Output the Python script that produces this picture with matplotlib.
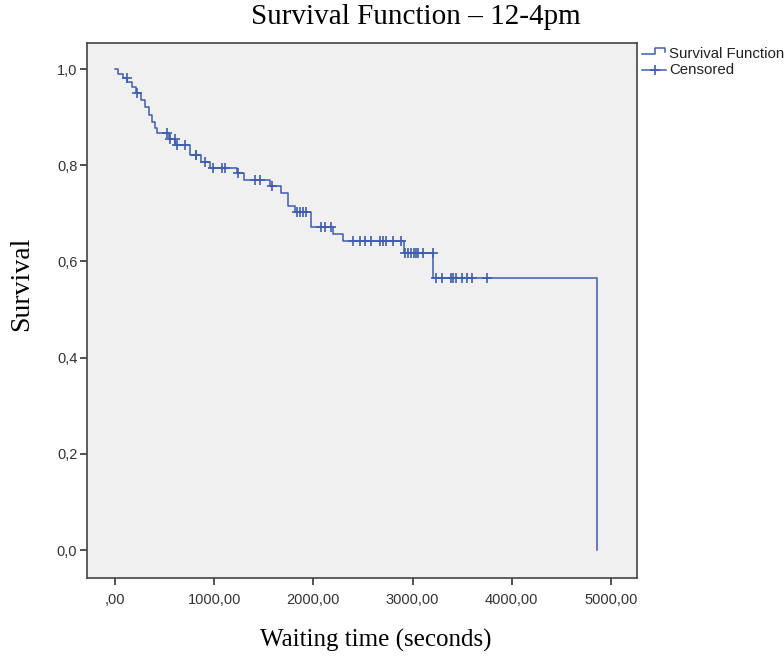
import numpy as np
import matplotlib
matplotlib.use("Agg")
import matplotlib.pyplot as plt
from matplotlib.lines import Line2D
from matplotlib.ticker import FixedLocator

# ---- data ----
event_times = [0, 30, 80, 120, 170, 210, 260, 300, 340, 370, 400, 420,
               540, 610, 760, 870, 960, 1225, 1300, 1565, 1675, 1745, 1815,
               1975, 2200, 2300, 2915, 3210, 4860]
survival = [1.0, 0.99, 0.982, 0.972, 0.962, 0.95, 0.935, 0.92, 0.905, 0.89, 0.878, 0.866,
            0.855, 0.842, 0.821, 0.807, 0.795, 0.784, 0.769, 0.757, 0.743, 0.715, 0.703,
            0.672, 0.657, 0.642, 0.617, 0.566, 0.0]
censored_times = [118, 219, 520, 555, 605, 625, 705, 815, 820, 907, 988, 1075, 1109,
                  1240, 1411, 1462, 1582, 1830, 1860, 1900, 1930, 2080, 2120, 2180,
                  2400, 2470, 2520, 2580, 2670, 2700, 2730, 2800, 2880, 2920,
                  2950, 2980, 3010, 3030, 3050, 3100, 3205,
                  3240, 3300, 3390, 3410, 3440, 3500, 3550, 3600, 3750]
x_ticks = [0, 1000, 2000, 3000, 4000, 5000]
x_tick_labels = [",00", "1000,00", "2000,00", "3000,00", "4000,00", "5000,00"]
y_ticks = [0.0, 0.2, 0.4, 0.6, 0.8, 1.0]
y_tick_labels = ["0,0", "0,2", "0,4", "0,6", "0,8", "1,0"]

# ---- figure ----
W, H = 784, 663
fig = plt.figure(figsize=(W / 100, H / 100), dpi=100)
ax = fig.add_axes([87 / W, 1 - 578 / H, (637 - 87) / W, (578 - 42.7) / H])
ax.set_facecolor("#f0f0f0")

line_color = "#3f5db0"
ax.step(event_times, survival, where="post", color=line_color, lw=1.1)

et = np.asarray(event_times)
sv = np.asarray(survival)
cens = np.asarray(censored_times)
cens_y = sv[np.searchsorted(et, cens, side="right") - 1]
ax.plot(cens, cens_y, linestyle="none", marker="+", markersize=6.5,
        markeredgewidth=1.2, color=line_color)

ax.set_xlim(-282, 5262)
ax.set_ylim(-0.0582, 1.0547)
ax.xaxis.set_major_locator(FixedLocator(x_ticks))
ax.set_xticklabels(x_tick_labels)
ax.yaxis.set_major_locator(FixedLocator(y_ticks))
ax.set_yticklabels(y_tick_labels)

for side in ["left", "bottom", "right", "top"]:
    ax.spines[side].set_color("#444444")
    ax.spines[side].set_linewidth(1.2)
ax.tick_params(axis="both", direction="out", length=5, width=1.2, color="#333333",
               labelsize=10.5, labelcolor="#333333")
ax.tick_params(axis="x", pad=6)
ax.tick_params(axis="y", pad=2)
for lab in ax.get_xticklabels() + ax.get_yticklabels():
    lab.set_family("Liberation Sans")

fig.text(416 / W, 1 - 17 / H, "Survival Function \u2013 12-4pm", ha="center", va="center",
         family="Liberation Serif", fontsize=21)
fig.text(376 / W, 1 - 640 / H, "Waiting time (seconds)", ha="center", va="center",
         family="Liberation Serif", fontsize=18)
fig.text(22 / W, 1 - 284 / H, "Survival", ha="center", va="center", rotation=90,
         family="Liberation Serif", fontsize=20)

# legend (manual, outside the axes)
def fx(px):
    return px / W

def fy(py):
    return 1 - py / H

leg1 = Line2D([fx(642), fx(655), fx(655), fx(665), fx(665)],
              [fy(53.5), fy(53.5), fy(48.3), fy(48.3), fy(52)],
              color=line_color, lw=1.1, transform=fig.transFigure)
fig.add_artist(leg1)
leg2 = Line2D([fx(642), fx(666)], [fy(69.5), fy(69.5)], color=line_color, lw=1.1,
              transform=fig.transFigure)
fig.add_artist(leg2)
leg3 = Line2D([fx(655)], [fy(69.5)], marker="+", markersize=6.5, markeredgewidth=1.2,
              color=line_color, linestyle="none", transform=fig.transFigure)
fig.add_artist(leg3)
fig.text(fx(669), fy(54.5), "Survival Function", ha="left", va="center",
         family="Liberation Sans", fontsize=10.8, color="#222222")
fig.text(fx(669), fy(70), "Censored", ha="left", va="center",
         family="Liberation Sans", fontsize=10.8, color="#222222")

fig.savefig("out.png", dpi=100)
